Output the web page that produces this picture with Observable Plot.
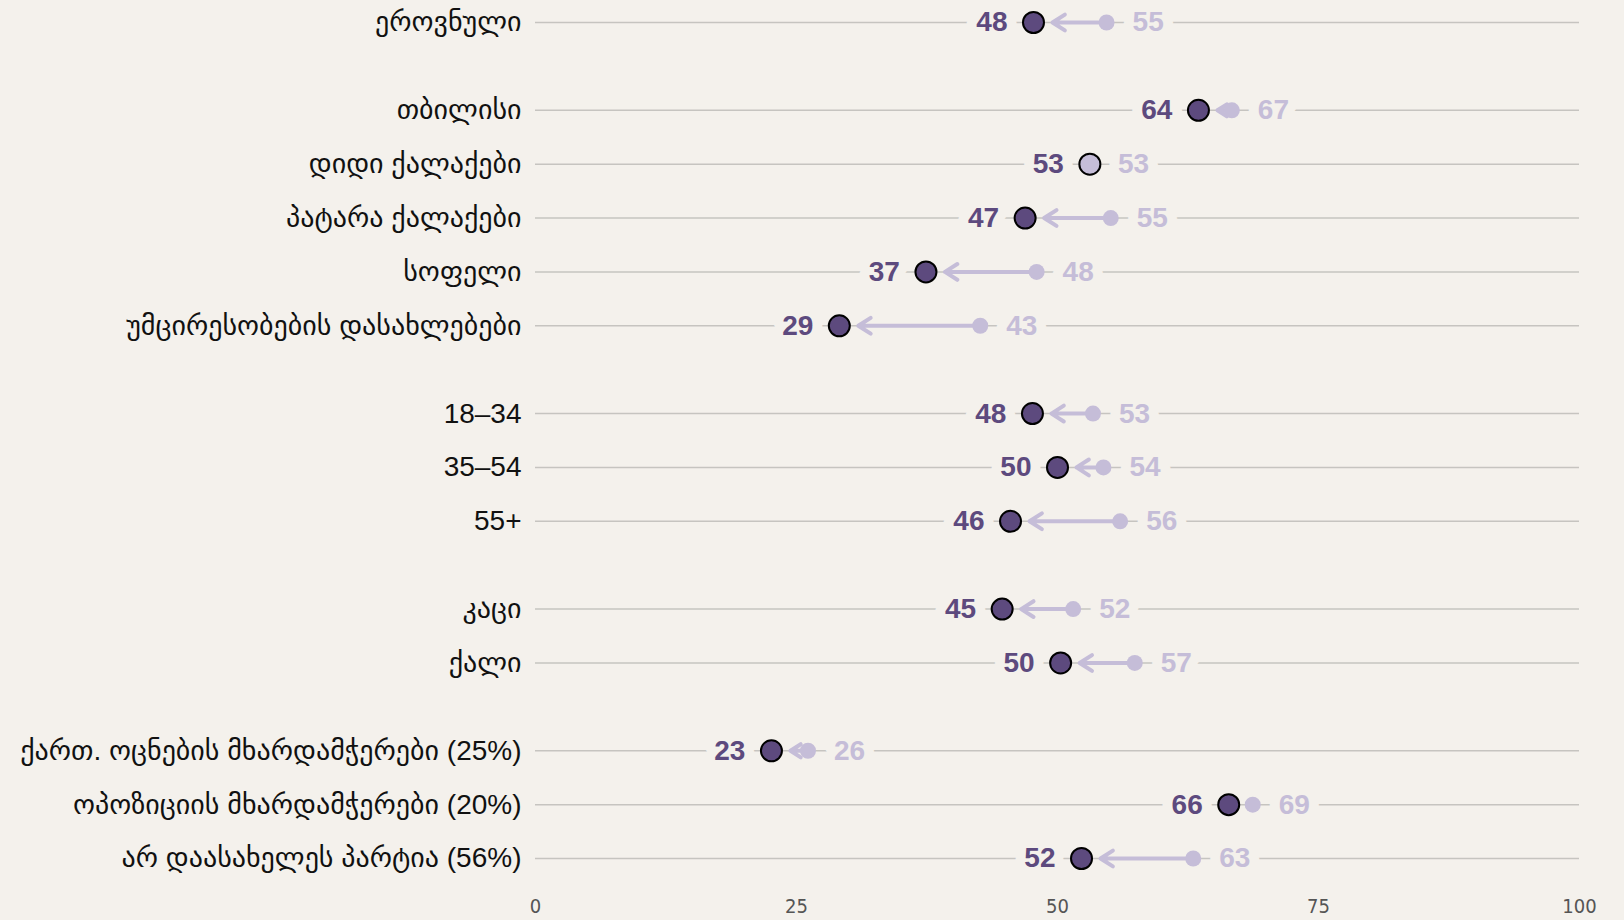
<!DOCTYPE html>
<html>
<head>
<meta charset="utf-8">
<script src="https://cdn.jsdelivr.net/npm/d3@7"></script>
<script src="https://cdn.jsdelivr.net/npm/@observablehq/plot@0.6"></script>
<style>
  html, body { margin: 0; padding: 0; background: #f4f1ec; }
  #chart svg { display: block; }
</style>
</head>
<body>
<div id="chart"></div>
<script>
// Categories (top to bottom) and their group
const categories = [
  "ეროვნული",
  "თბილისი",
  "დიდი ქალაქები",
  "პატარა ქალაქები",
  "სოფელი",
  "უმცირესობების დასახლებები",
  "18–34",
  "35–54",
  "55+",
  "კაცი",
  "ქალი",
  "ქართ. ოცნების მხარდამჭერები (25%)",
  "ოპოზიციის მხარდამჭერები (20%)",
  "არ დაასახელეს პარტია (56%)"
];
const groups = [0, 1, 1, 1, 1, 1, 2, 2, 2, 3, 3, 4, 4, 4];
// Current values (dark dots) and previous values (light dots)
const current  = [47.7, 63.5, 53.1, 46.9, 37.4, 29.1, 47.6, 50.0, 45.5, 44.7, 50.3, 22.6, 66.4, 52.3];
const previous = [54.7, 66.7, 53.3, 55.1, 48.0, 42.6, 53.4, 54.4, 56.0, 51.5, 57.4, 26.1, 68.7, 63.0];
const xTicks = [0, 25, 50, 75, 100];

const groupGap = 0.63;
const data = categories.map((c, i) => ({
  label: c,
  pos: i + groups[i] * groupGap,
  cur: current[i],
  prev: previous[i]
}));
const labelByPos = new Map(data.map(d => [d.pos, d.label]));
const maxPos = d3.max(data, d => d.pos);

const bg = "#f4f1ec";
const dark = "#5d4a7e";
const light = "#c5bdd8";

const chart = Plot.plot({
  width: 1624,
  height: 920,
  marginLeft: 535,
  marginRight: 45,
  marginTop: 22,
  marginBottom: 62,
  style: { background: bg, fontFamily: "'DejaVu Sans', sans-serif" },
  x: { domain: [0, 100], label: null },
  y: { domain: [0, maxPos], reverse: true, label: null },
  marks: [
    Plot.ruleY(data, { y: "pos", x1: 0, x2: 100, stroke: "#c6c4c0", strokeWidth: 1.5 }),
    Plot.axisY({
      ticks: data.map(d => d.pos),
      tickFormat: d => labelByPos.get(d),
      tickSize: 0,
      tickPadding: 14,
      fontSize: 28,
      fill: "#111111",
      label: null,
      fontFamily: "'Liberation Sans', 'DejaVu Sans', sans-serif"
    }),
    Plot.axisX({
      ticks: xTicks,
      tickSize: 0,
      tickPadding: 40,
      fontSize: 20,
      fill: "#555555",
      label: null,
      fontFamily: "'DejaVu Sans Condensed', 'DejaVu Sans', sans-serif"
    }),
    Plot.text(data, {
      x: "cur", y: "pos", text: d => String(Math.round(d.cur)),
      dx: -26, textAnchor: "end", fill: dark, fontWeight: "bold", fontSize: 28,
      fontFamily: "'Liberation Sans', Arial, sans-serif",
      stroke: bg, strokeWidth: 20, strokeLinejoin: "round"
    }),
    Plot.text(data, {
      x: "prev", y: "pos", text: d => String(Math.round(d.prev)),
      dx: 26, textAnchor: "start", fill: light, fontWeight: "bold", fontSize: 28,
      fontFamily: "'Liberation Sans', Arial, sans-serif",
      stroke: bg, strokeWidth: 20, strokeLinejoin: "round"
    }),
    Plot.arrow(data.filter(d => Math.abs(d.prev - d.cur) > 1.5), {
      x1: "prev", x2: "cur", y1: "pos", y2: "pos",
      stroke: light, strokeWidth: 4, headLength: 5.5, headAngle: 65, insetEnd: 19, bend: 0,
      strokeLinecap: "round", strokeLinejoin: "round"
    }),
    Plot.dot(data, { x: "prev", y: "pos", r: 8, fill: light }),
    Plot.dot(data, {
      x: "cur", y: "pos", r: 10.5,
      fill: d => Math.round(d.cur) === Math.round(d.prev) ? light : dark,
      stroke: "#000", strokeWidth: 2
    })
  ]
});
document.getElementById("chart").append(chart);
</script>
</body>
</html>
